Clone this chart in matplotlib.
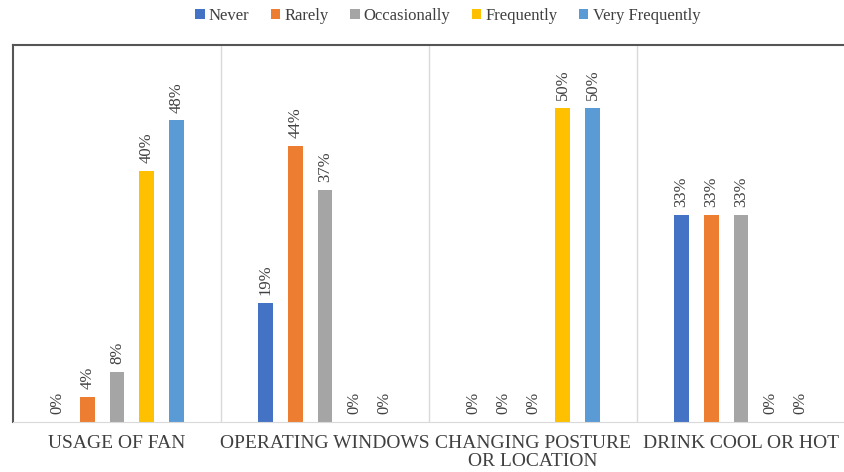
import matplotlib.pyplot as plt
import numpy as np

categories = ["USAGE OF FAN", "OPERATING WINDOWS", "CHANGING POSTURE\nOR LOCATION", "DRINK COOL OR HOT"]
series = ["Never", "Rarely", "Occasionally", "Frequently", "Very Frequently"]
values = [
    [0, 19, 0, 33],   # Never
    [4, 44, 0, 33],   # Rarely
    [8, 37, 0, 33],   # Occasionally
    [40, 0, 50, 0],   # Frequently
    [48, 0, 50, 0],   # Very Frequently
]
colors = ["#4472C4", "#ED7D31", "#A5A5A5", "#FFC000", "#5B9BD5"]

plt.rcParams['font.family'] = ['Liberation Serif', 'DejaVu Serif']

fig = plt.figure(figsize=(8.45, 4.72), dpi=100)
ax = fig.add_axes([13 / 845, 1 - 422 / 472, 1 - 13 / 845, (422 - 45) / 472])

x = np.arange(len(categories))
width = 0.072
step = 0.143
for i, (name, vals) in enumerate(zip(series, values)):
    pos = x + (i - 2) * step
    ax.bar(pos, vals, width, color=colors[i], label=name)
    for p, v in zip(pos, vals):
        ax.text(p, v + 1.2, f"{v}%", rotation=90, ha="center", va="bottom",
                fontsize=12, color="#404040")

ax.set_xlim(-0.5, len(categories) - 0.5)
ax.set_ylim(0, 60)
ax.set_yticks([])
ax.set_xticks(x)
ax.set_xticklabels(categories, fontsize=14, color="#404040", linespacing=1.15)
ax.tick_params(axis="x", length=0, pad=9)

for sep in x[1:] - 0.5:
    ax.axvline(sep, color="#d9d9d9", lw=1)

ax.spines["left"].set_color("#555555")
ax.spines["left"].set_linewidth(1.5)
ax.spines["top"].set_color("#555555")
ax.spines["top"].set_linewidth(1.5)
ax.spines["bottom"].set_color("#d9d9d9")
ax.spines["right"].set_visible(False)

fig.legend(loc="upper center", bbox_to_anchor=(0.53, 1.015), ncol=5, frameon=False,
           fontsize=12, handlelength=0.55, handleheight=0.55, handletextpad=0.25,
           columnspacing=1.3, labelcolor="#404040")

fig.savefig("out.png", dpi=100)
